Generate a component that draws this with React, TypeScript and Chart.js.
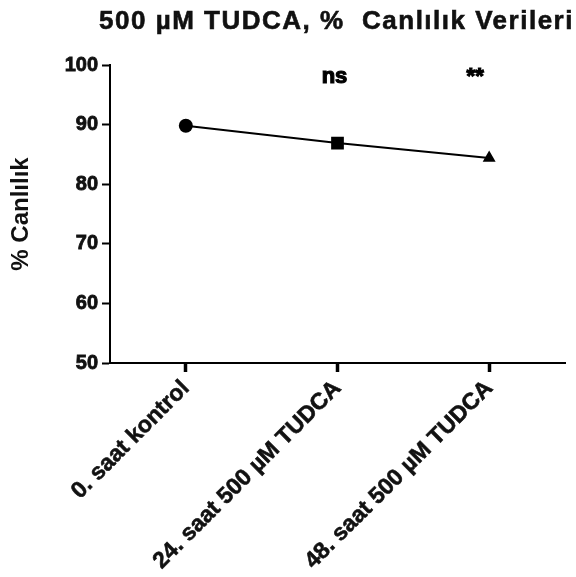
import React, { useEffect, useRef } from "react";
import { Chart, registerables } from "chart.js";

Chart.register(...registerables);

const chartTitle = "500 µM TUDCA, %  Canlılık Verileri";
const yAxisTitle = "% Canlılık";
const categories = ["0. saat kontrol", "24. saat 500 µM TUDCA", "48. saat 500 µM TUDCA"];
const viability = [89.8, 86.9, 84.4];
const significance = ["", "ns", "**"];
const markerStyles = ["circle", "rect", "triangle"];
const yMin = 50;
const yMax = 100;
const yStep = 10;
const annotationLevel = 98;

const FONT = "'Liberation Sans', Arial, sans-serif";

const titlePlugin = {
  id: "customTitle",
  afterDraw(chart: any) {
    const { ctx, chartArea } = chart;
    ctx.save();
    ctx.font = `bold 26px ${FONT}`;
    (ctx as any).letterSpacing = "1.5px";
    ctx.fillStyle = "#111";
    ctx.strokeStyle = "#111";
    ctx.lineWidth = 0.6;
    ctx.textAlign = "center";
    ctx.textBaseline = "alphabetic";
    const x = (chartArea.left + chartArea.right) / 2 - 1;
    ctx.fillText(chartTitle, x, 29);
    ctx.strokeText(chartTitle, x, 29);
    ctx.restore();
  },
};

const sigPlugin = {
  id: "sigLabels",
  afterDatasetsDraw(chart: any) {
    const { ctx } = chart;
    const xs = chart.scales.x;
    const ys = chart.scales.y;
    const dx = [0, -3, -14];
    ctx.save();
    ctx.font = `bold 22px ${FONT}`;
    ctx.fillStyle = "#000";
    ctx.strokeStyle = "#000";
    ctx.lineWidth = 1.2;
    ctx.textAlign = "center";
    ctx.textBaseline = "alphabetic";
    significance.forEach((s, i) => {
      if (!s) return;
      const x = xs.getPixelForValue(i) + dx[i];
      const y = ys.getPixelForValue(annotationLevel) + 6;
      ctx.fillText(s, x, y);
      ctx.strokeText(s, x, y);
    });
    ctx.restore();
  },
};

export default function App() {
  const ref = useRef<HTMLCanvasElement | null>(null);
  useEffect(() => {
    if (!ref.current) return;
    const chart = new Chart(ref.current, {
      type: "line",
      data: {
        labels: categories,
        datasets: [
          {
            data: viability,
            borderColor: "#000",
            backgroundColor: "#000",
            borderWidth: 2,
            pointStyle: markerStyles as any,
            pointRadius: [7, 9, 7.5],
            pointBorderWidth: 0,
            pointBackgroundColor: "#000",
            tension: 0,
          },
        ],
      },
      options: {
        responsive: false,
        animation: false,
        devicePixelRatio: 1,
        layout: { padding: { top: 65, right: 11, left: 0, bottom: 0 } },
        plugins: {
          legend: { display: false },
          title: { display: false },
          tooltip: { enabled: false },
        },
        scales: {
          x: {
            type: "category",
            offset: true,
            border: { display: true, color: "#000", width: 2 },
            grid: {
              display: true,
              drawOnChartArea: false,
              offset: false,
              tickLength: 9,
              tickWidth: 3.5,
              tickColor: "#000",
            },
            ticks: {
              color: "#111",
              textStrokeColor: "#111",
              textStrokeWidth: 0.6,
              font: { family: FONT, size: 23, weight: "bold" },
              maxRotation: 45,
              minRotation: 45,
              padding: 3,
            },
            afterFit(scale: any) {
              scale.height = 214;
            },
          },
          y: {
            min: yMin,
            max: yMax,
            border: { display: true, color: "#000", width: 2 },
            grid: {
              display: true,
              drawOnChartArea: false,
              tickLength: 8,
              tickWidth: 2,
              tickColor: "#000",
            },
            ticks: {
              stepSize: yStep,
              color: "#111",
              textStrokeColor: "#111",
              textStrokeWidth: 0.8,
              font: { family: FONT, size: 20, weight: "bold" },
              padding: 4,
            },
            title: {
              display: true,
              text: yAxisTitle,
              color: "#111",
              font: { family: FONT, size: 24, weight: "bold" },
              padding: { top: 7, bottom: 0 },
            },
            afterFit(scale: any) {
              scale.width = 110;
            },
          },
        },
      },
      plugins: [titlePlugin, sigPlugin],
    });
    return () => chart.destroy();
  }, []);
  return (
    <div style={{ position: "absolute", left: 0, top: 0, width: 576, height: 577, background: "#fff" }}>
      <canvas ref={ref} width={576} height={577} style={{ display: "block" }} />
    </div>
  );
}
